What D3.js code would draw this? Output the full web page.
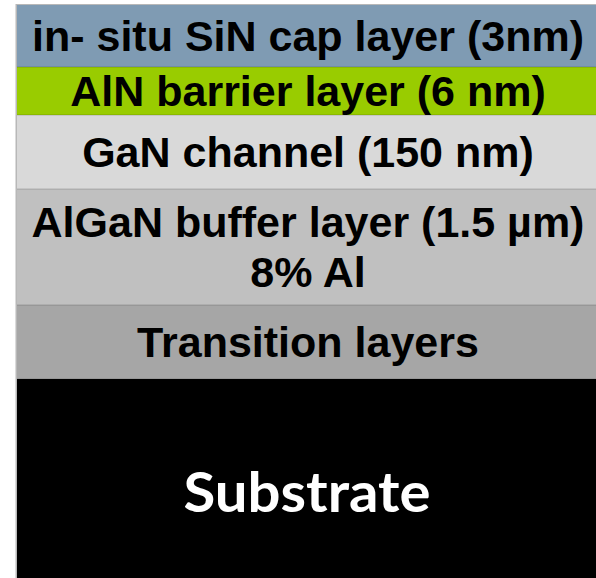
<!DOCTYPE html>
<html>
<head>
<meta charset="utf-8">
<script src="https://cdn.jsdelivr.net/npm/d3@7"></script>
<style>
  html, body { margin: 0; padding: 0; background: #ffffff; }
  svg { display: block; }
</style>
</head>
<body>
<svg id="chart" width="596" height="578"></svg>
<script>
// Layer stack (top to bottom)
const layers = ["cap", "barrier", "channel", "buffer", "transition", "substrate"];
const labelLine1 = [
  "in- situ SiN cap layer (3nm)",
  "AlN barrier layer (6 nm)",
  "GaN channel (150 nm)",
  "AlGaN buffer layer (1.5 µm)",
  "Transition layers",
  "Substrate"
];
const labelLine2 = ["", "", "", "8% Al", "", ""];
// drawn band thickness (arbitrary drawing units, as in the picture)
const bandThickness = [62, 48, 74, 116, 74, 199];

const fills = ["#7f9bb3", "#99cc00", "#d9d9d9", "#c0c0c0", "#a6a6a6", "#000000"];
const textColors = ["#000", "#000", "#000", "#000", "#000", "#fff"];

const svg = d3.select("#chart");
const mLeft = 17, mRight = 596, mTop = 5, mBottom = 578;

// cumulative stacking
let acc = 0;
const rows = layers.map((k, i) => {
  const r = { key: k, i, y0: acc, y1: acc + bandThickness[i],
              l1: labelLine1[i], l2: labelLine2[i] };
  acc += bandThickness[i];
  return r;
});

const y = d3.scaleLinear().domain([0, acc]).range([mTop, mBottom]);
const x = d3.scaleLinear().domain([0, 1]).range([mLeft, mRight]);
const cx = (x(0) + x(1)) / 2 + 1.5;

// border line on left/top
svg.append("rect")
  .attr("x", mLeft - 1.5).attr("y", mTop - 1)
  .attr("width", mRight - mLeft + 1.5).attr("height", mBottom - mTop + 1)
  .attr("fill", "#b8b8b8");

const g = svg.selectAll("g.layer").data(rows).join("g").attr("class", "layer");

g.append("rect")
  .attr("x", x(0)).attr("width", x(1) - x(0))
  .attr("y", d => y(d.y0))
  .attr("height", d => y(d.y1) - y(d.y0))
  .attr("fill", (d, i) => fills[i]);

// subtle separator lines between bands
g.filter(d => d.i > 0).append("line")
  .attr("x1", x(0)).attr("x2", x(1))
  .attr("y1", d => y(d.y0)).attr("y2", d => y(d.y0))
  .attr("stroke", "rgba(0,0,0,0.12)").attr("stroke-width", 1.5);

const fs = 43;
const capH = fs * 0.716;

g.each(function(d) {
  const sel = d3.select(this);
  const mid = (y(d.y0) + y(d.y1)) / 2;
  if (d.key === "substrate") {
    sel.append("text")
      .attr("x", cx - 1).attr("y", mid + 33.5)
      .attr("text-anchor", "middle")
      .attr("font-family", "Lato, 'Open Sans', sans-serif")
      .attr("font-weight", 700)
      .attr("font-size", 56)
      .attr("fill", textColors[d.i])
      .attr("textLength", 247)
      .attr("lengthAdjust", "spacingAndGlyphs")
      .text(d.l1);
  } else if (d.l2) {
    const gap = 50;
    [d.l1, d.l2].forEach((t, j) => {
      sel.append("text")
        .attr("x", cx).attr("y", mid + capH / 2 - gap / 2 + j * gap - 0.5)
        .attr("text-anchor", "middle")
        .attr("font-family", "'Liberation Sans', Arial, sans-serif")
        .attr("font-weight", 700)
        .attr("font-size", fs)
        .attr("fill", textColors[d.i])
        .text(t);
    });
  } else {
    sel.append("text")
      .attr("x", cx).attr("y", mid + capH / 2)
      .attr("text-anchor", "middle")
      .attr("font-family", "'Liberation Sans', Arial, sans-serif")
      .attr("font-weight", 700)
      .attr("font-size", fs)
      .attr("fill", textColors[d.i])
      .text(d.l1);
  }
});
</script>
</body>
</html>
